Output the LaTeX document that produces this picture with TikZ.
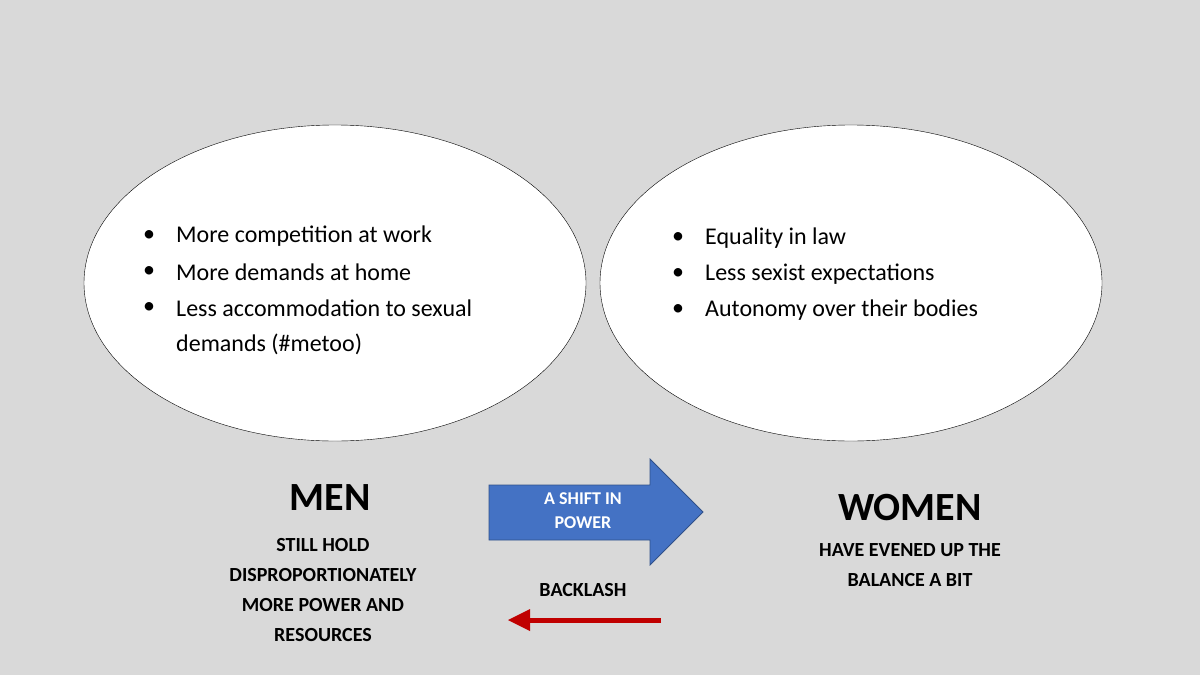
\documentclass[tikz,border=0pt]{standalone}
\usepackage{fontspec}
\setmainfont{Carlito}
\usetikzlibrary{shapes.geometric}
\definecolor{bg}{HTML}{D9D9D9}
\definecolor{blu}{HTML}{4472C4}
\definecolor{rd}{HTML}{C00000}
\begin{document}
\begin{tikzpicture}[x=1pt,y=-1pt,
  bul/.style={anchor=west,font=\fontsize{24}{29}\selectfont,inner sep=0},
  captxt/.style={font=\bfseries\fontsize{20}{30}\selectfont,align=center},
  big/.style={font=\bfseries\fontsize{40}{44}\selectfont}]
\fill[bg] (0,0) rectangle (1200,675);
\useasboundingbox (0,0) rectangle (1200,675);
\node[ellipse,draw,fill=white,minimum width=502pt,minimum height=316pt] (le) at (335,283) {};
\node[ellipse,draw,fill=white,minimum width=502pt,minimum height=316pt] (re) at (851,283) {};
\foreach \y/\t in {236/More competition at work,272/More demands at home,308/Less accommodation to sexual,344/demands (\#metoo)}{
  \node[bul] at (176,\y) {\t};}
\foreach \y in {236,272,308}{\node[bul] at (143,\y) {•};}
\foreach \y/\t in {238/Equality in law,274/Less sexist expectations,310/Autonomy over their bodies}{
  \node[bul] at (705,\y) {\t}; \node[bul] at (672,\y) {•};}
\node[big] (men) at (330,498) {MEN};
\node[captxt] (mens) at (323,590) {STILL HOLD\\DISPROPORTIONATELY\\MORE POWER AND\\RESOURCES};
\node[big] (wom) at (910,508) {WOMEN};
\node[captxt] (woms) at (910,565) {HAVE EVENED UP THE\\BALANCE A BIT};
\fill[blu] (489,485) -- (650,485) -- (650,459) -- (703,512) -- (650,565) -- (650,540) -- (489,540) -- cycle;
\draw[blu!70!black,line width=0.8pt] (489,485) -- (650,485) -- (650,459) -- (703,512) -- (650,565) -- (650,540) -- (489,540) -- cycle;
\node[font=\bfseries\fontsize{18}{24}\selectfont,text=white,align=center] (shift) at (583,511) {A SHIFT IN\\POWER};
\node[font=\bfseries\fontsize{20}{24}\selectfont] (back) at (583,590) {BACKLASH};
\coordinate (ra) at (661,620); \coordinate (rb) at (508,620);
\draw[rd,line width=5pt] (ra) -- (528,620);
\fill[rd] (rb) -- (530,609) -- (530,631) -- cycle;
\end{tikzpicture}
\end{document}
